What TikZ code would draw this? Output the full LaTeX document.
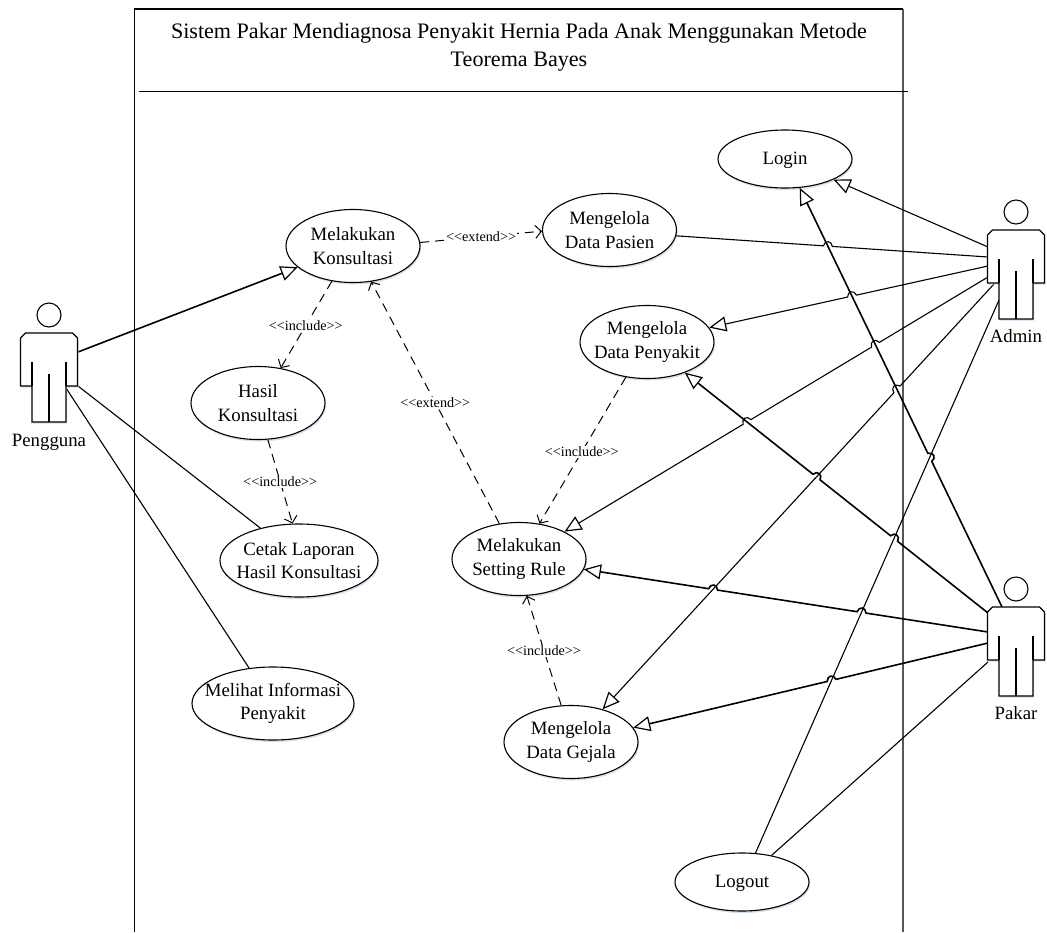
\documentclass[tikz,border=0pt]{standalone}
\usepackage{fontspec}
\setmainfont{Liberation Serif}
\usetikzlibrary{arrows.meta,calc,shapes.geometric,shadows}
\definecolor{edgegray}{HTML}{505860}
\definecolor{shadowblue}{HTML}{C9DAEC}
\newcommand{\ltlt}{<\kern0pt<}
\newcommand{\gtgt}{>\kern0pt>}
\tikzset{
  usecase/.style={ellipse,draw=black,line width=1.1pt,fill=white,inner ysep=0pt,inner xsep=-20pt,
    minimum width=#1,align=center,font=\fontsize{18.8}{23.5}\selectfont,
    execute at begin node={\rule{0pt}{15pt}},
    drop shadow={shadow xshift=1pt,shadow yshift=-2pt,fill=shadowblue,opacity=.8}},
  usecase/.default=134pt,
  frameline/.style={draw=edgegray,line width=1.5pt},
  assoc/.style={draw=black,line width=1.1pt},
  assocthick/.style={draw=black,line width=1.6pt},
  opentip/.style={-{Triangle[open,fill=white,length=17pt,width=15pt,line width=1.2pt]}},
  depend/.style={draw=black,line width=1pt,dash pattern=on 9pt off 6pt,
    -{Straight Barb[length=6pt,width=13pt,line width=1pt]}},
  stereo/.style={fill=white,inner sep=1pt,font=\fontsize{14.2}{16}\selectfont},
  actorbody/.style={draw=black,line width=1.1pt,fill=white,
    drop shadow={shadow xshift=1pt,shadow yshift=-1.5pt,fill=shadowblue,opacity=.8}},
  actorname/.style={inner sep=0pt,font=\fontsize{18.8}{22}\selectfont}
}
% path with jumps: S, E, list of crossing coordinates
\newcommand{\jl}[4]{\draw[#1] (#2) foreach \j in {#4} { -- ($(\j)!4.5pt!(#2)$) to[bend right=80,looseness=1.7] ($(\j)!4.5pt!(#3)$) } -- (#3);}
\newcommand{\cross}[5]{\coordinate (#1) at (intersection cs:first line={(#2)--(#3)},second line={(#4)--(#5)});}
\newcommand{\actorfig}[4]{%
  \begin{scope}[shift={(#2,#3)}]
    \path[actorbody] (-23.5,18) -- (23.5,18) -- (28.5,23) -- (28.5,71) -- (17,71) -- (17,107) -- (-17,107) -- (-17,71) -- (-28.5,71) -- (-28.5,23) -- cycle;
    \draw[line width=1.1pt] (17,71) -- (17,47) (-17,71) -- (-17,47) (0,59) -- (0,107);
    \node[circle,draw=black,line width=1.1pt,fill=white,minimum size=24pt,inner sep=0pt] (#1) at (0,0) {};
  \end{scope}
  \node[actorname] (#1name) at (#2,#3+#4) {\strut #1};
}
\begin{document}
\begin{tikzpicture}[x=1pt,y=-1pt]
\useasboundingbox (0,0) rectangle (1047,932);
\path[fill=white] (0,0) rectangle (1047,932);
% system boundary
\coordinate (bl) at (134.5,932);
\coordinate (tl) at (134.5,9);
\coordinate (tr) at (903,9);
\coordinate (br) at (903,932);
\coordinate (hl) at (139,91);
\coordinate (hr) at (908,91);
\draw[frameline,draw=black] (bl) -- (tl) -- (tr);
\draw[frameline] (tr) -- (br);
\draw[draw=black,line width=1pt] (hl) -- (hr);
\node[align=center,inner sep=0pt,font=\fontsize{22.1}{28.5}\selectfont] (title) at (519,47)
  {Sistem Pakar Mendiagnosa Penyakit Hernia Pada Anak Menggunakan Metode\\Teorema Bayes};
% use cases
\node[usecase,minimum height=58pt] (login) at (785,159) {Login};
\node[usecase,minimum height=73pt] (konsul) at (353,246) {Melakukan\\Konsultasi};
\node[usecase,minimum height=73pt] (pasien) at (609.5,230) {Mengelola\\Data Pasien};
\node[usecase,minimum height=73pt] (penyakit) at (647,342) {Mengelola\\Data Penyakit};
\node[usecase,minimum height=73pt] (hasil) at (258,403) {Hasil\\Konsultasi};
\node[usecase=158pt,minimum height=73pt] (cetak) at (299,560.5) {Cetak Laporan\\Hasil Konsultasi};
\node[usecase,minimum height=73pt] (setting) at (519,559) {Melakukan\\Setting Rule};
\node[usecase=162pt,minimum height=73pt] (melihat) at (273,703.5) {Melihat Informasi\\Penyakit};
\node[usecase,minimum height=73pt] (gejala) at (571,742) {Mengelola\\Data Gejala};
\node[usecase,minimum height=58pt] (logout) at (742,882) {Logout};
% actor attachment points
\coordinate (u1) at (78,352);
\coordinate (u2) at (78,386);
\coordinate (u3) at (66,388);
\coordinate (a1) at (988,247);
\coordinate (a2) at (988,257);
\coordinate (a3) at (988,266);
\coordinate (a4) at (988,277);
\coordinate (a5) at (994,284);
\coordinate (a6) at (999,300);
\coordinate (p1) at (1002,607);
\coordinate (p2) at (988,613);
\coordinate (p3) at (988,632);
\coordinate (p4) at (988,643);
\coordinate (p5) at (988,662);
% ellipse ends
\coordinate (a1e) at (login.337.4);
\coordinate (a2e) at (pasien.355.7);
\coordinate (a3e) at (penyakit.13.6);
\coordinate (a4e) at (setting.31);
\coordinate (a5e) at (gejala.46.8);
\coordinate (a6e) at (logout.65.9);
\coordinate (p1e) at (login.297.4);
\coordinate (p2e) at (penyakit.321.7);
\coordinate (p3e) at (setting.351.1);
\coordinate (p4e) at (gejala.13.8);
\coordinate (p5e) at (logout.42);
% line crossings
\cross{xa2}{a2}{a2e}{p1}{p1e}
\cross{xa3}{a3}{a3e}{p1}{p1e}
\cross{xa4}{a4}{a4e}{p1}{p1e}
\cross{xa4b}{a4}{a4e}{p2}{p2e}
\cross{xa5}{a5}{a5e}{p1}{p1e}
\cross{xp1}{p1}{p1e}{a6}{a6e}
\cross{xp2a}{p2}{p2e}{a6}{a6e}
\cross{xp2b}{p2}{p2e}{a5}{a5e}
\cross{xp3a}{p3}{p3e}{a6}{a6e}
\cross{xp3b}{p3}{p3e}{a5}{a5e}
\cross{xp4}{p4}{p4e}{a6}{a6e}
% Pengguna
\draw[assocthick,opentip] (u1) -- (konsul.201.3);
\draw[assoc] (u2) -- (cetak.140.2);
\draw[assoc] (u3) -- (melihat.124);
% Admin
\draw[assoc,opentip] (a1) -- (a1e);
\jl{assoc}{a2}{a2e}{xa2}
\jl{assoc,opentip}{a3}{a3e}{xa3}
\jl{assoc,opentip}{a4}{a4e}{xa4,xa4b}
\jl{assoc,opentip}{a5}{a5e}{xa5}
\draw[assoc] (a6) -- (a6e);
% Pakar
\jl{assocthick,opentip}{p1}{p1e}{xp1}
\jl{assocthick,opentip}{p2}{p2e}{xp2a,xp2b}
\jl{assocthick,opentip}{p3}{p3e}{xp3a,xp3b}
\jl{assocthick,opentip}{p4}{p4e}{xp4}
\draw[assoc] (p5) -- (p5e);
% dependencies
\draw[depend] (konsul.3.4) -- node[stereo,pos=.5] (l1) {\ltlt extend\gtgt} (pasien.181.7);
\draw[depend] (konsul.239.7) -- node[stereo,pos=.51] (l2) {\ltlt include\gtgt} (hasil.57.8);
\draw[depend] (hasil.285.1) -- node[stereo,pos=.5] (l3) {\ltlt include\gtgt} (cetak.100.9);
\draw[depend] (setting.119) -- node[stereo,pos=.5] (l4) {\ltlt extend\gtgt} (konsul.297.2);
\draw[depend] (penyakit.239) -- node[stereo,pos=.51] (l5) {\ltlt include\gtgt} (setting.60.3);
\draw[depend] (gejala.105.5) -- node[stereo,pos=.5] (l6) {\ltlt include\gtgt} (setting.282.2);
% actors
\actorfig{Pengguna}{49}{315}{127.5}
\actorfig{Admin}{1016}{212}{126}
\actorfig{Pakar}{1016}{589}{126}
\end{tikzpicture}
\end{document}
